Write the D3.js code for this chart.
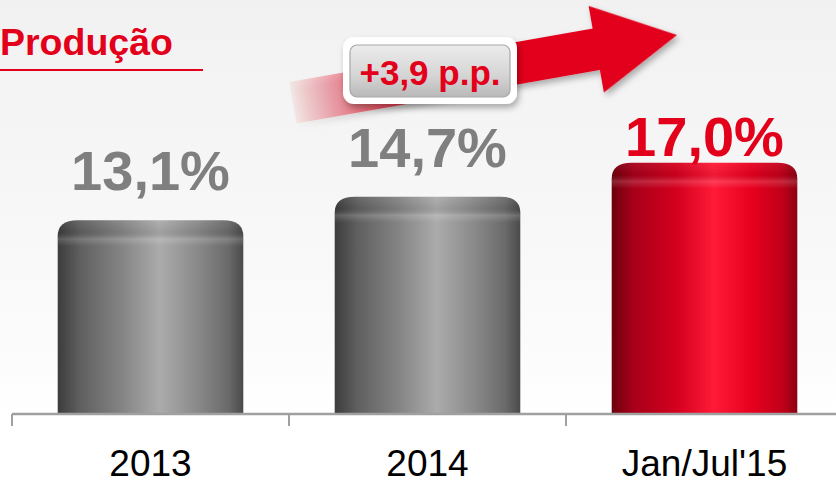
<!DOCTYPE html>
<html>
<head>
<meta charset="utf-8">
<script src="https://cdn.jsdelivr.net/npm/d3@7"></script>
<style>
    html, body { margin: 0; padding: 0; background: #fff; }
    svg { display: block; }
    text { font-family: "Liberation Sans", Arial, sans-serif; }
</style>
</head>
<body>
<div id="chart"></div>
<script>
const title = "Produção";
const categories = ["2013", "2014", "Jan/Jul'15"];
const values = [13.1, 14.7, 17.0];
const valueLabels = ["13,1%", "14,7%", "17,0%"];
const highlighted = [false, false, true];
const changeLabel = "+3,9 p.p.";

const width = 836, height = 487;
const baseY = 414;
const red = "#e2001a";

const svg = d3.select("#chart").append("svg")
    .attr("width", width)
    .attr("height", height);

const defs = svg.append("defs");

// background fades from light gray to white
const bg = defs.append("linearGradient").attr("id", "bg")
    .attr("x1", 0).attr("y1", 0).attr("x2", 0).attr("y2", 1);
bg.append("stop").attr("offset", "0%").attr("stop-color", "#f1f1f1");
bg.append("stop").attr("offset", "70%").attr("stop-color", "#fbfbfb");
bg.append("stop").attr("offset", "85%").attr("stop-color", "#ffffff");
svg.append("rect").attr("width", width).attr("height", height).attr("fill", "url(#bg)");

function cylinder(id, stops) {
    const g = defs.append("linearGradient").attr("id", id)
        .attr("x1", 0).attr("y1", 0).attr("x2", 1).attr("y2", 0);
    stops.forEach(([o, c]) => g.append("stop").attr("offset", o).attr("stop-color", c));
}
cylinder("barGray", [["0%", "#3c3c3c"], ["12%", "#5f5f5f"], ["35%", "#858585"], ["55%", "#ababab"], ["75%", "#8a8a8a"], ["92%", "#6a6a6a"], ["100%", "#4a4a4a"]]);
cylinder("barRed", [["0%", "#6e000c"], ["12%", "#a8001a"], ["35%", "#d4001e"], ["55%", "#ff1a38"], ["75%", "#e8001f"], ["92%", "#c00019"], ["100%", "#8c0012"]]);

// soft rounded lip at the top of each bar
const cap = defs.append("linearGradient").attr("id", "cap")
    .attr("x1", 0).attr("y1", 0).attr("x2", 0).attr("y2", 1);
cap.append("stop").attr("offset", "0%").attr("stop-color", "#fff").attr("stop-opacity", 0.06);
cap.append("stop").attr("offset", "45%").attr("stop-color", "#000").attr("stop-opacity", 0.06);
cap.append("stop").attr("offset", "72%").attr("stop-color", "#fff").attr("stop-opacity", 0.16);
cap.append("stop").attr("offset", "100%").attr("stop-color", "#fff").attr("stop-opacity", 0);

const shadow = defs.append("filter").attr("id", "shadow")
    .attr("x", "-20%").attr("y", "-20%").attr("width", "140%").attr("height", "160%");
shadow.append("feDropShadow").attr("dx", 2).attr("dy", 4).attr("stdDeviation", 3)
    .attr("flood-color", "#000").attr("flood-opacity", 0.3);

// scales
const x = d3.scaleBand()
    .domain(categories)
    .range([12, 843])
    .paddingInner(0.33)
    .paddingOuter(0.165);

const y = d3.scaleLinear()
    .domain([0, 28])
    .range([baseY, 0]);

const data = categories.map((c, i) => ({
    cat: c, value: values[i], label: valueLabels[i], hi: highlighted[i]
}));

// bars
const rx = 20, ry = 16;
function barPath(d) {
    const x0 = x(d.cat), x1 = x0 + x.bandwidth(), top = y(d.value);
    return `M${x0},${baseY} V${top + ry} Q${x0},${top} ${x0 + rx},${top} H${x1 - rx} Q${x1},${top} ${x1},${top + ry} V${baseY} Z`;
}
function capPath(d) {
    const x0 = x(d.cat), x1 = x0 + x.bandwidth(), top = y(d.value);
    return `M${x0},${top + ry + 10} V${top + ry} Q${x0},${top} ${x0 + rx},${top} H${x1 - rx} Q${x1},${top} ${x1},${top + ry} V${top + ry + 10} Z`;
}

const bars = svg.append("g").selectAll("g").data(data).join("g");
bars.append("path")
    .attr("d", barPath)
    .attr("fill", d => d.hi ? "url(#barRed)" : "url(#barGray)");
bars.append("path")
    .attr("d", capPath)
    .attr("fill", "url(#cap)");

// value labels
svg.append("g").selectAll("text").data(data).join("text")
    .attr("x", d => x(d.cat) + x.bandwidth() / 2)
    .attr("y", d => y(d.value) - (d.hi ? 7 : 30))
    .attr("text-anchor", "middle")
    .attr("font-size", 56)
    .attr("font-weight", "bold")
    .attr("fill", d => d.hi ? red : "#7f7f7f")
    .text(d => d.label);

// axis: line + ticks on band boundaries
const axisG = svg.append("g").attr("transform", `translate(0,${baseY})`);
const edges = categories.map(c => x(c) - x.step() * x.paddingInner() / 2).concat([x.range()[1]]);
axisG.append("line")
    .attr("x1", edges[0]).attr("x2", width)
    .attr("stroke", "#a0a0a0").attr("stroke-width", 2.5);
axisG.selectAll(".tick-mark").data(edges).join("line")
    .attr("class", "tick-mark")
    .attr("x1", d => d).attr("x2", d => d)
    .attr("y1", 0).attr("y2", 12)
    .attr("stroke", "#a0a0a0").attr("stroke-width", 2);

const labelAxis = svg.append("g")
    .attr("transform", `translate(0,${baseY})`)
    .call(d3.axisBottom(x).tickSize(0).tickPadding(36));
labelAxis.select(".domain").remove();
labelAxis.selectAll("text")
    .attr("font-family", "Liberation Sans, Arial, sans-serif")
    .attr("font-size", 37)
    .attr("fill", "#000");

// title
svg.append("text")
    .attr("x", 0).attr("y", 55)
    .attr("font-size", 37.5)
    .attr("font-weight", "bold")
    .attr("fill", red)
    .text(title);
svg.append("line")
    .attr("x1", 0).attr("x2", 203)
    .attr("y1", 70).attr("y2", 70)
    .attr("stroke", red).attr("stroke-width", 2);

// trend arrow, fading at the tail
const tip = [677, 35], angle = -10, len = 390;
const headLen = 82, headHalf = 44, shaftHalf = 21;
const arrowG = svg.append("g")
    .attr("transform", `translate(${tip[0]},${tip[1]}) rotate(${angle})`);
const fade = defs.append("linearGradient").attr("id", "fade")
    .attr("gradientUnits", "userSpaceOnUse")
    .attr("x1", -len).attr("y1", 0).attr("x2", -len + 150).attr("y2", 0);
fade.append("stop").attr("offset", "0%").attr("stop-color", red).attr("stop-opacity", 0.05);
fade.append("stop").attr("offset", "100%").attr("stop-color", red).attr("stop-opacity", 1);
const arrowPts = [
    [0, 0], [-headLen, -headHalf], [-headLen, -shaftHalf], [-len, -shaftHalf],
    [-len, shaftHalf], [-headLen, shaftHalf], [-headLen, headHalf]
];
arrowG.append("path")
    .attr("d", d3.line()(arrowPts) + "Z")
    .attr("fill", "url(#fade)")
    .attr("filter", "url(#shadow)");

// change badge
const btn = defs.append("linearGradient").attr("id", "btn")
    .attr("x1", 0).attr("y1", 0).attr("x2", 0).attr("y2", 1);
btn.append("stop").attr("offset", "0%").attr("stop-color", "#ececec");
btn.append("stop").attr("offset", "60%").attr("stop-color", "#d4d4d4");
btn.append("stop").attr("offset", "100%").attr("stop-color", "#b8b8b8");

const badge = svg.append("g");
badge.append("rect")
    .attr("x", 343).attr("y", 37).attr("width", 174).attr("height", 67).attr("rx", 11)
    .attr("fill", "#fff").attr("filter", "url(#shadow)");
badge.append("rect")
    .attr("x", 350).attr("y", 45).attr("width", 160).attr("height", 52).attr("rx", 7)
    .attr("fill", "url(#btn)").attr("stroke", "#a8a8a8").attr("stroke-width", 1.2);
badge.append("text")
    .attr("x", 430).attr("y", 85)
    .attr("text-anchor", "middle")
    .attr("font-size", 35)
    .attr("font-weight", "bold")
    .attr("fill", red)
    .text(changeLabel);
</script>
</body>
</html>
